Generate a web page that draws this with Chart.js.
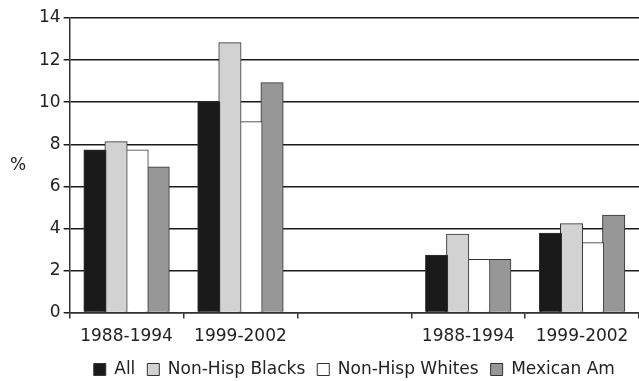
<!DOCTYPE html>
<html>
<head>
<meta charset="utf-8">
<script src="https://cdn.jsdelivr.net/npm/chart.js@4/dist/chart.umd.min.js"></script>
<style>
html,body{margin:0;padding:0;background:#fff;}
#wrap{width:639px;height:381px;position:relative;}
</style>
</head>
<body>
<div id="wrap"><canvas id="c"></canvas></div>
<script>
const categories = ['1988-1994', '1999-2002', '', '1988-1994', '1999-2002'];
const seriesNames = ['All', 'Non-Hisp Blacks', 'Non-Hisp Whites', 'Mexican Am'];
const allValues = [7.7, 10.0, null, 2.7, 3.75];
const blacksValues = [8.1, 12.8, null, 3.7, 4.2];
const whitesValues = [7.7, 9.05, null, 2.5, 3.3];
const mexicanValues = [6.9, 10.9, null, 2.5, 4.6];
const yTicks = [0, 2, 4, 6, 8, 10, 12, 14];
const yAxisLabel = '%';

const colors = ['#1a1a1a', '#d2d2d2', '#ffffff', '#979797'];
const seriesValues = [allValues, blacksValues, whitesValues, mexicanValues];
const FONT = 'DejaVu Sans';

const pctLabel = {
  id: 'pctLabel',
  afterDraw(chart) {
    const ctx = chart.ctx;
    const a = chart.chartArea;
    ctx.save();
    ctx.fillStyle = '#222';
    ctx.font = '17px "' + FONT + '"';
    ctx.textAlign = 'center';
    ctx.textBaseline = 'middle';
    ctx.fillText(yAxisLabel, 18, (a.top + a.bottom) / 2);
    ctx.restore();
  }
};

new Chart(document.getElementById('c'), {
  type: 'bar',
  data: {
    labels: categories,
    datasets: seriesNames.map((n, i) => ({
      label: n,
      data: seriesValues[i],
      backgroundColor: colors[i],
      borderColor: '#333',
      borderWidth: 1,
      inflateAmount: 1,
      barPercentage: 1,
      categoryPercentage: 0.74
    }))
  },
  options: {
    responsive: true,
    maintainAspectRatio: false,
    animation: false,
    layout: { padding: { left: 36, top: 18, right: 0, bottom: -7 } },
    plugins: {
      tooltip: { enabled: false },
      legend: {
        position: 'bottom',
        fullSize: false,
        labels: {
          boxWidth: 12,
          boxHeight: 12,
          padding: 12,
          color: '#222',
          font: { family: FONT, size: 17 }
        }
      }
    },
    scales: {
      x: {
        afterFit(scale) { scale.height = scale.height - 6; },
        grid: { drawOnChartArea: false, drawTicks: true, tickLength: 6, color: '#333', lineWidth: 1.5, offset: true },
        border: { color: '#333', width: 1.5 },
        ticks: { color: '#222', font: { family: FONT, size: 17 }, padding: 8, maxRotation: 0, autoSkip: false }
      },
      y: {
        min: 0,
        max: 14,
        afterBuildTicks(axis) { axis.ticks = yTicks.map(v => ({ value: v })); },
        grid: { color: '#1a1a1a', lineWidth: 1.5, tickLength: 6 },
        border: { color: '#333', width: 1.5 },
        ticks: { color: '#222', font: { family: FONT, size: 17 }, padding: 3 }
      }
    }
  },
  plugins: [pctLabel]
});
</script>
</body>
</html>
